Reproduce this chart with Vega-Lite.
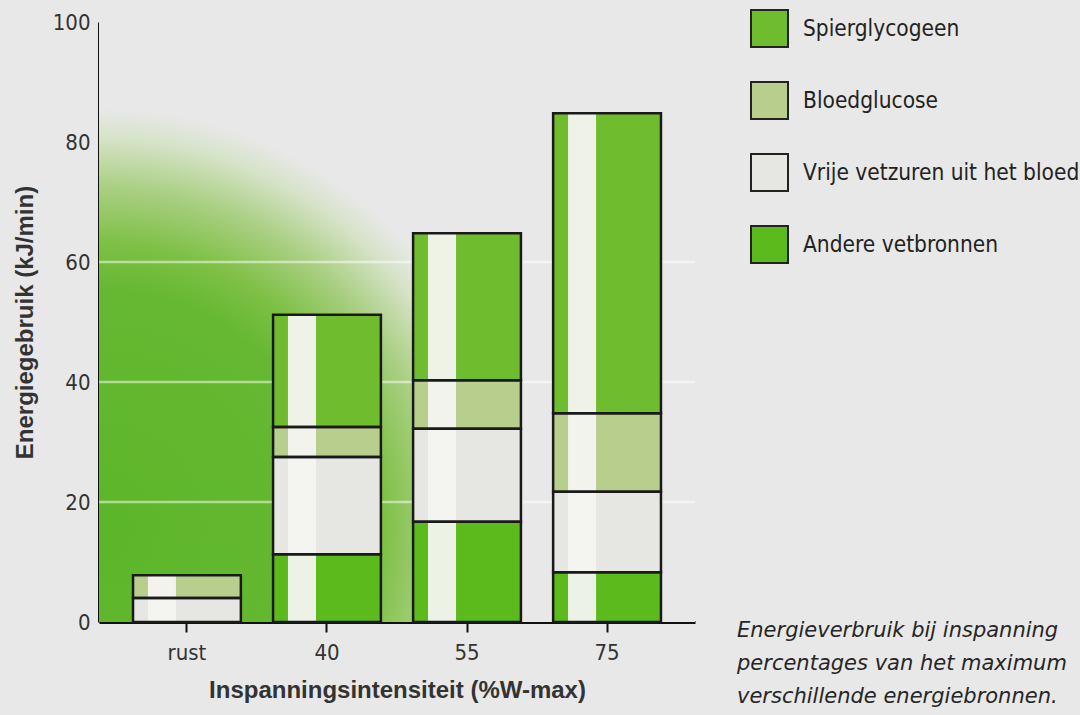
{
  "$schema": "https://vega.github.io/schema/vega-lite/v6.json",
  "autosize": {"type": "none"},
  "width": 596,
  "height": 600,
  "padding": {"left": 99, "top": 22, "right": 385, "bottom": 93},
  "background": "#e8e8e8",
  "title": {
    "text": ["Energieverbruik bij inspanning", "percentages van het maximum", "verschillende energiebronnen."],
    "orient": "bottom",
    "anchor": "start",
    "frame": "group",
    "dx": 638,
    "dy": -82,
    "offset": 0,
    "font": "DejaVu Sans",
    "fontStyle": "italic",
    "fontWeight": "normal",
    "fontSize": 21,
    "lineHeight": 33,
    "color": "#262626",
    "baseline": "top"
  },
  "datasets": {
    "energie": [
      {"intensiteit": "rust", "bron": "Vrije vetzuren uit het bloed", "waarde": 4.0, "volgorde": 2},
      {"intensiteit": "rust", "bron": "Bloedglucose", "waarde": 3.8, "volgorde": 3},
      {"intensiteit": "40", "bron": "Andere vetbronnen", "waarde": 11.3, "volgorde": 1},
      {"intensiteit": "40", "bron": "Vrije vetzuren uit het bloed", "waarde": 16.2, "volgorde": 2},
      {"intensiteit": "40", "bron": "Bloedglucose", "waarde": 5.0, "volgorde": 3},
      {"intensiteit": "40", "bron": "Spierglycogeen", "waarde": 18.7, "volgorde": 4},
      {"intensiteit": "55", "bron": "Andere vetbronnen", "waarde": 16.7, "volgorde": 1},
      {"intensiteit": "55", "bron": "Vrije vetzuren uit het bloed", "waarde": 15.5, "volgorde": 2},
      {"intensiteit": "55", "bron": "Bloedglucose", "waarde": 8.1, "volgorde": 3},
      {"intensiteit": "55", "bron": "Spierglycogeen", "waarde": 24.5, "volgorde": 4},
      {"intensiteit": "75", "bron": "Andere vetbronnen", "waarde": 8.3, "volgorde": 1},
      {"intensiteit": "75", "bron": "Vrije vetzuren uit het bloed", "waarde": 13.4, "volgorde": 2},
      {"intensiteit": "75", "bron": "Bloedglucose", "waarde": 13.1, "volgorde": 3},
      {"intensiteit": "75", "bron": "Spierglycogeen", "waarde": 50.0, "volgorde": 4}
    ],
    "raster": [{"y": 20}, {"y": 40}, {"y": 60}],
    "achtergrond": [{"vlak": "achtergrond"}]
  },
  "data": {"name": "energie"},
  "layer": [
    {
      "data": {"name": "achtergrond"},
      "mark": {
        "type": "rect",
        "fill": {
          "gradient": "radial",
          "x1": 0, "y1": 0.844, "r1": 0,
          "x2": 0, "y2": 0.844, "r2": 0.7,
          "stops": [
            {"offset": 0, "color": "#5cb629"},
            {"offset": 0.57, "color": "#66b832"},
            {"offset": 0.68, "color": "#7ec046"},
            {"offset": 0.81, "color": "#a9cf82"},
            {"offset": 0.93, "color": "#d6e3c8"},
            {"offset": 1, "color": "#e8e8e8"}
          ]
        }
      },
      "encoding": {}
    },
    {
      "data": {"name": "raster"},
      "mark": {"type": "rule", "color": "#ffffff", "strokeWidth": 2.5, "opacity": 0.5},
      "encoding": {
        "y": {"field": "y", "type": "quantitative"}
      }
    },
    {
      "mark": {"type": "bar", "strokeWidth": 0},
      "encoding": {
        "x": {
          "field": "intensiteit",
          "type": "nominal",
          "sort": ["rust", "40", "55", "75"],
          "scale": {"paddingInner": 0.23, "paddingOuter": 0.243},
          "axis": {
            "title": "Inspanningsintensiteit (%W-max)",
            "labelAngle": 0,
            "domainColor": "#111111",
            "domainWidth": 3,
            "tickColor": "#111111",
            "tickWidth": 2,
            "tickSize": 10,
            "labelPadding": 10,
            "labelFont": "'Liberation Sans Narrow', 'DejaVu Sans Condensed', sans-serif",
            "labelFontSize": 22,
            "labelColor": "#333333",
            "titleFont": "Liberation Sans",
            "titleFontWeight": "bold",
            "titleFontSize": 24,
            "titleColor": "#333333",
            "titlePadding": 15
          }
        },
        "y": {
          "field": "waarde",
          "type": "quantitative",
          "stack": "zero",
          "scale": {"domain": [0, 100], "nice": false},
          "axis": {
            "title": "Energiegebruik (kJ/min)",
            "values": [0, 20, 40, 60, 80, 100],
            "grid": false,
            "ticks": false,
            "domainColor": "#111111",
            "domainWidth": 3,
            "labelPadding": 9,
            "labelFont": "'Liberation Sans Narrow', 'DejaVu Sans Condensed', sans-serif",
            "labelFontSize": 22,
            "labelColor": "#333333",
            "titleFont": "Liberation Sans",
            "titleFontWeight": "bold",
            "titleFontSize": 24,
            "titleColor": "#333333",
            "titlePadding": 15
          }
        },
        "color": {
          "field": "bron",
          "type": "nominal",
          "scale": {
            "domain": ["Spierglycogeen", "Bloedglucose", "Vrije vetzuren uit het bloed", "Andere vetbronnen"],
            "range": ["#6fbd2f", "#b7ce8d", "#e6e6e2", "#5cba1c"]
          },
          "legend": {
            "title": null,
            "orient": "none",
            "legendX": 651,
            "legendY": -13,
            "padding": 0,
            "symbolType": "square",
            "symbolSize": 1369,
            "symbolStrokeColor": "#222222",
            "symbolStrokeWidth": 2,
            "symbolOpacity": 1,
            "labelFont": "'Liberation Sans Narrow', 'DejaVu Sans Condensed', sans-serif",
            "labelFontSize": 22.5,
            "labelColor": "#222222",
            "labelOffset": 14,
            "rowPadding": 27,
            "labelLimit": 400
          }
        },
        "order": {"field": "volgorde", "type": "quantitative"}
      }
    },
    {
      "mark": {"type": "bar", "color": "#f4f4f1", "opacity": 0.95, "width": {"band": 0.26}, "xOffset": -25, "strokeWidth": 0},
      "encoding": {
        "x": {"field": "intensiteit", "type": "nominal", "sort": ["rust", "40", "55", "75"]},
        "y": {"field": "waarde", "type": "quantitative", "stack": "zero"},
        "order": {"field": "volgorde", "type": "quantitative"}
      }
    },
    {
      "mark": {"type": "bar", "fill": "#ffffff", "fillOpacity": 0, "stroke": "#1a1a1a", "strokeWidth": 2.5},
      "encoding": {
        "x": {"field": "intensiteit", "type": "nominal", "sort": ["rust", "40", "55", "75"]},
        "y": {"field": "waarde", "type": "quantitative", "stack": "zero"},
        "order": {"field": "volgorde", "type": "quantitative"}
      }
    }
  ],
  "config": {
    "view": {"stroke": null}
  }
}
